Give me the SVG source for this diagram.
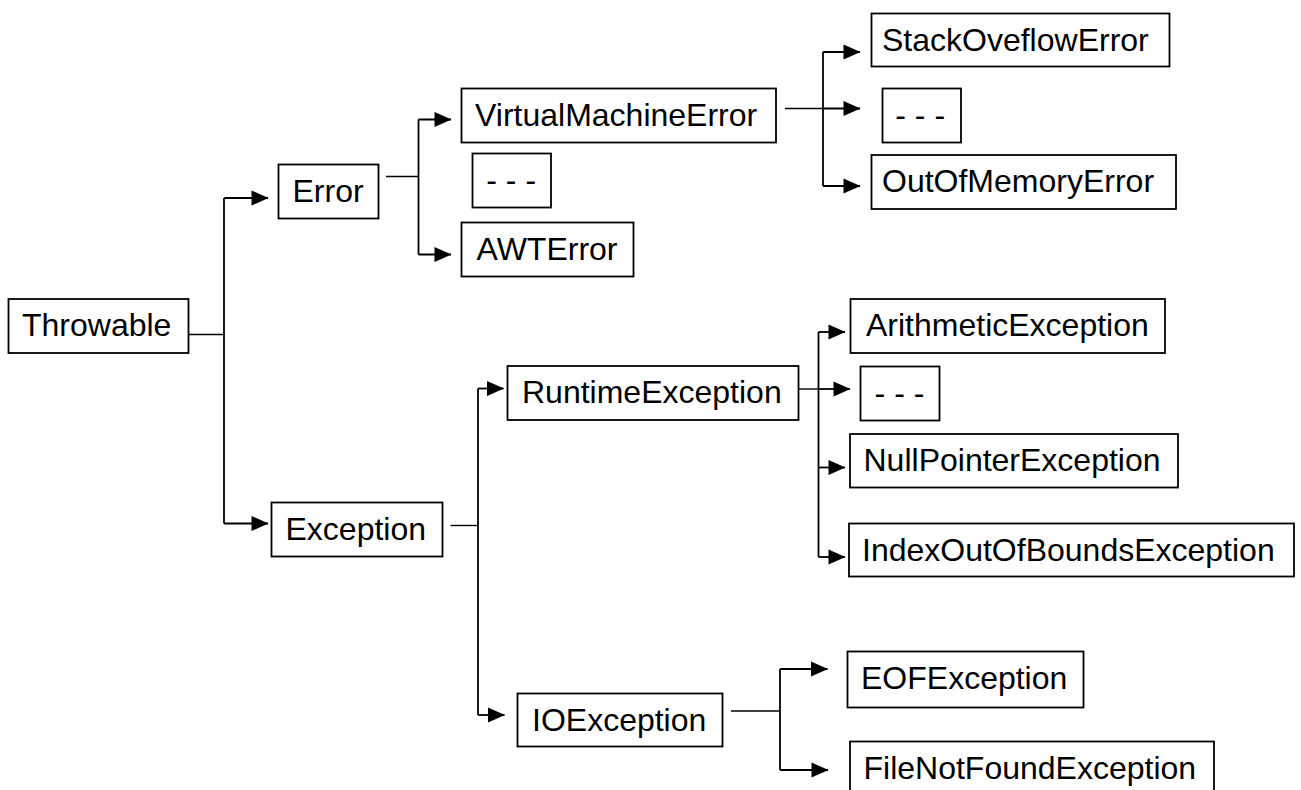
<svg xmlns="http://www.w3.org/2000/svg" width="1301" height="790" viewBox="0 0 1301 790">
<style>
  .box{fill:#fff;stroke:#000;stroke-width:1.8}
  .lbl{font-family:"Liberation Sans",Arial,sans-serif;font-size:32px;fill:#000}
  .con{fill:none;stroke:#000;stroke-width:1.8}
  .stub{fill:none;stroke:#000;stroke-width:1.4}
  .arr{fill:none;stroke:#000;stroke-width:1.8;marker-end:url(#ah)}
</style>
<defs>
  <marker id="ah" markerUnits="userSpaceOnUse" markerWidth="17" markerHeight="15" refX="16.5" refY="7.5" orient="auto" overflow="visible">
    <path d="M0,0 L17,7.5 L0,15 Z" fill="#000"/>
  </marker>
</defs>
<rect width="1301" height="790" fill="#fff"/>
<g id="connectors">
  <path class="stub" d="M181,334.5 H224"/>
  <path class="con" d="M224,198 V523.5"/>
  <path class="arr" d="M224,198 H268"/>
  <path class="arr" d="M224,523.5 H268"/>

  <path class="stub" d="M386,176.5 H418.5"/>
  <path class="con" d="M418.5,119.5 V254.5"/>
  <path class="arr" d="M418.5,119.5 H451"/>
  <path class="arr" d="M418.5,254.5 H451"/>

  <path class="stub" d="M785,108.5 H823"/>
  <path class="con" d="M823,52 V186"/>
  <path class="arr" d="M823,52 H860"/>
  <path class="arr" d="M823,108.5 H860"/>
  <path class="arr" d="M823,186 H860"/>

  <path class="stub" d="M450.5,525.5 H478"/>
  <path class="con" d="M478,388.5 V715"/>
  <path class="arr" d="M478,388.5 H503.5"/>
  <path class="arr" d="M478,715 H504.5"/>

  <path class="stub" d="M796,389 H818.5"/>
  <path class="con" d="M818.5,332 V557"/>
  <path class="arr" d="M818.5,332 H845"/>
  <path class="arr" d="M818.5,389 H850"/>
  <path class="arr" d="M818.5,467.5 H845"/>
  <path class="arr" d="M818.5,557 H845"/>

  <path class="stub" d="M731,711 H780"/>
  <path class="con" d="M780,669 V770"/>
  <path class="arr" d="M780,669 H827.5"/>
  <path class="arr" d="M780,770 H828"/>
</g>
<g id="throwable"><rect class="box" x="8.5" y="299" width="180" height="54"/><text class="lbl" x="22" y="336">Throwable</text></g>
<g id="error"><rect class="box" x="278.5" y="164.5" width="100" height="54"/><text class="lbl" x="292.5" y="201.5">Error</text></g>
<g id="vme"><rect class="box" x="461.5" y="88.5" width="314.5" height="54"/><text class="lbl" x="475" y="126">VirtualMachineError</text></g>
<g id="err-more"><rect class="box" x="472.5" y="153.5" width="78.5" height="54"/><text class="lbl" x="486.3" y="190.5">- - -</text></g>
<g id="awterror"><rect class="box" x="461.5" y="222.5" width="172" height="54"/><text class="lbl" x="476.5" y="260">AWTError</text></g>
<g id="stackoverflow"><rect class="box" x="871.5" y="13.5" width="298" height="53"/><text class="lbl" x="882" y="50.5">StackOveflowError</text></g>
<g id="vme-more"><rect class="box" x="882.5" y="88.5" width="78.5" height="54"/><text class="lbl" x="895.3" y="125.5">- - -</text></g>
<g id="outofmemory"><rect class="box" x="871.5" y="155" width="304.5" height="54"/><text class="lbl" x="882" y="192">OutOfMemoryError</text></g>
<g id="exception"><rect class="box" x="271.5" y="502.5" width="171" height="54"/><text class="lbl" x="285.5" y="539.5">Exception</text></g>
<g id="runtime"><rect class="box" x="507.5" y="366" width="291" height="54"/><text class="lbl" x="522" y="403">RuntimeException</text></g>
<g id="arithmetic"><rect class="box" x="850.5" y="299" width="314.5" height="54"/><text class="lbl" x="866" y="336">ArithmeticException</text></g>
<g id="rt-more"><rect class="box" x="860.5" y="366.5" width="79" height="54"/><text class="lbl" x="874.6" y="403.5">- - -</text></g>
<g id="nullpointer"><rect class="box" x="850" y="434" width="328" height="53.5"/><text class="lbl" x="863.5" y="471">NullPointerException</text></g>
<g id="indexoutofbounds"><rect class="box" x="849" y="523.5" width="445" height="53"/><text class="lbl" x="862" y="560.5">IndexOutOfBoundsException</text></g>
<g id="ioexception"><rect class="box" x="517.5" y="693.5" width="205" height="53"/><text class="lbl" x="532" y="730.5">IOException</text></g>
<g id="eof"><rect class="box" x="847.5" y="651.5" width="236" height="56"/><text class="lbl" x="861" y="689">EOFException</text></g>
<g id="filenotfound"><rect class="box" x="850" y="741.5" width="364" height="60"/><text class="lbl" x="863.5" y="779">FileNotFoundException</text></g>
</svg>
